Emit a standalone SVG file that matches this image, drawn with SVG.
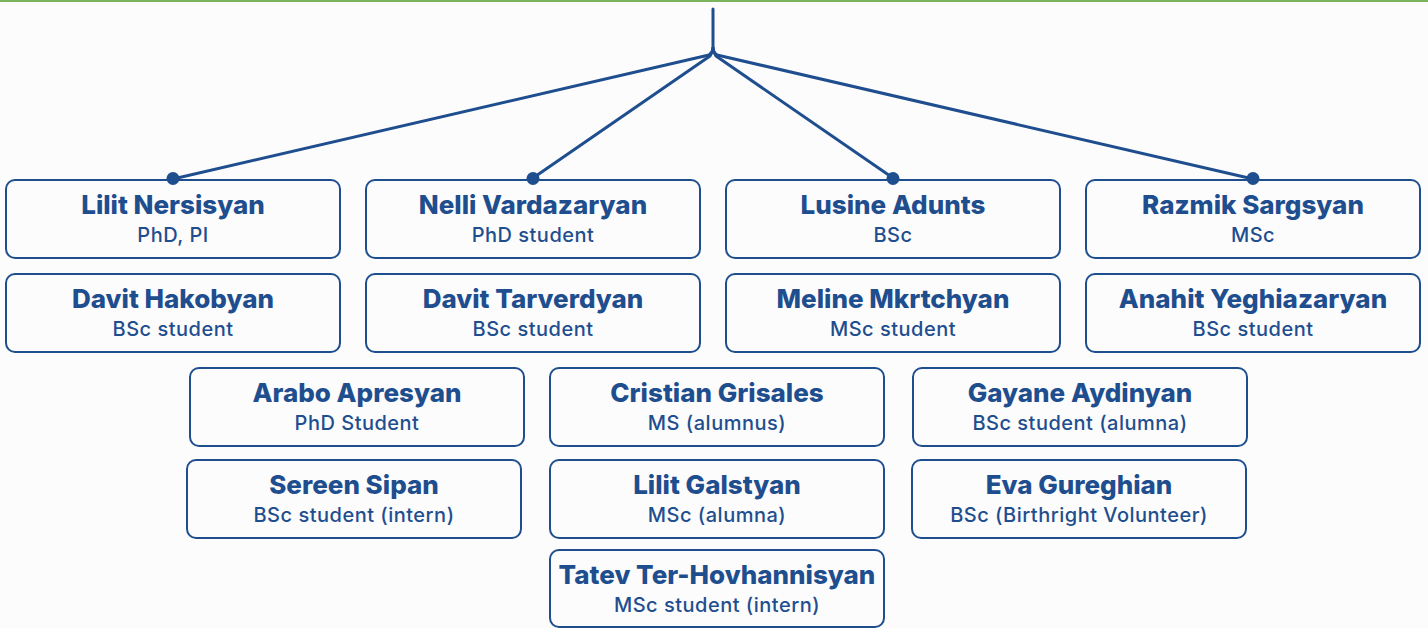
<svg xmlns="http://www.w3.org/2000/svg" width="1428" height="628" viewBox="0 0 1428 628">
<style>
.bg{fill:#fcfcfd}
.box{fill:#fcfcfd;stroke:#1f4e8f;stroke-width:2}
.nm{font-family:Inter,"Open Sans","Liberation Sans",sans-serif;font-weight:800;font-size:26px;fill:#1f4e8f;text-anchor:middle}
.sb{font-family:Inter,"Open Sans","Liberation Sans",sans-serif;font-weight:500;font-size:20px;letter-spacing:0.5px;fill:#1f4e8f;text-anchor:middle}
.ln{fill:none;stroke:#1f4e8f;stroke-width:3;stroke-linecap:round;stroke-linejoin:round}
.dot{fill:#1f4e8f}
</style>
<rect class="bg" x="0" y="0" width="1428" height="628"/>
<rect x="0" y="0" width="1428" height="2" fill="#7ab55c"/>
<g id="n1"><rect class="box" x="6" y="180" width="334" height="78" rx="9"/><text class="nm" x="173" y="214">Lilit Nersisyan</text><text class="sb" x="173" y="242">PhD, PI</text></g>
<g id="n2"><rect class="box" x="366" y="180" width="334" height="78" rx="9"/><text class="nm" x="533" y="214">Nelli Vardazaryan</text><text class="sb" x="533" y="242">PhD student</text></g>
<g id="n3"><rect class="box" x="726" y="180" width="334" height="78" rx="9"/><text class="nm" x="893" y="214">Lusine Adunts</text><text class="sb" x="893" y="242">BSc</text></g>
<g id="n4"><rect class="box" x="1086" y="180" width="334" height="78" rx="9"/><text class="nm" x="1253" y="214">Razmik Sargsyan</text><text class="sb" x="1253" y="242">MSc</text></g>
<g id="n5"><rect class="box" x="6" y="274" width="334" height="78" rx="9"/><text class="nm" x="173" y="308">Davit Hakobyan</text><text class="sb" x="173" y="336">BSc student</text></g>
<g id="n6"><rect class="box" x="366" y="274" width="334" height="78" rx="9"/><text class="nm" x="533" y="308">Davit Tarverdyan</text><text class="sb" x="533" y="336">BSc student</text></g>
<g id="n7"><rect class="box" x="726" y="274" width="334" height="78" rx="9"/><text class="nm" x="893" y="308">Meline Mkrtchyan</text><text class="sb" x="893" y="336">MSc student</text></g>
<g id="n8"><rect class="box" x="1086" y="274" width="334" height="78" rx="9"/><text class="nm" x="1253" y="308">Anahit Yeghiazaryan</text><text class="sb" x="1253" y="336">BSc student</text></g>
<g id="n9"><rect class="box" x="190" y="368" width="334" height="78" rx="9"/><text class="nm" x="357" y="402">Arabo Apresyan</text><text class="sb" x="357" y="430">PhD Student</text></g>
<g id="n10"><rect class="box" x="550" y="368" width="334" height="78" rx="9"/><text class="nm" x="717" y="402">Cristian Grisales</text><text class="sb" x="717" y="430">MS (alumnus)</text></g>
<g id="n11"><rect class="box" x="913" y="368" width="334" height="78" rx="9"/><text class="nm" x="1080" y="402">Gayane Aydinyan</text><text class="sb" x="1080" y="430">BSc student (alumna)</text></g>
<g id="n12"><rect class="box" x="187" y="460" width="334" height="78" rx="9"/><text class="nm" x="354" y="494">Sereen Sipan</text><text class="sb" x="354" y="522">BSc student (intern)</text></g>
<g id="n13"><rect class="box" x="550" y="460" width="334" height="78" rx="9"/><text class="nm" x="717" y="494">Lilit Galstyan</text><text class="sb" x="717" y="522">MSc (alumna)</text></g>
<g id="n14"><rect class="box" x="912" y="460" width="334" height="78" rx="9"/><text class="nm" x="1079" y="494">Eva Gureghian</text><text class="sb" x="1079" y="522">BSc (Birthright Volunteer)</text></g>
<g id="n15"><rect class="box" x="550" y="550" width="334" height="77" rx="9"/><text class="nm" x="717" y="584">Tatev Ter-Hovhannisyan</text><text class="sb" x="717" y="612">MSc student (intern)</text></g>
<g id="connectors">
<path class="ln" d="M713 9 V48 Q713 52 709 55 L173 179"/>
<path class="ln" d="M713 48 Q713 52 710 56 L533 178"/>
<path class="ln" d="M713 48 Q713 52 716 56 L893 178"/>
<path class="ln" d="M713 48 Q713 52 717 55 L1253 179"/>
<circle class="dot" cx="173" cy="178.5" r="6.5"/>
<circle class="dot" cx="533" cy="178.5" r="6.5"/>
<circle class="dot" cx="893" cy="178.5" r="6.5"/>
<circle class="dot" cx="1253" cy="178.5" r="6.5"/>
</g>
</svg>
